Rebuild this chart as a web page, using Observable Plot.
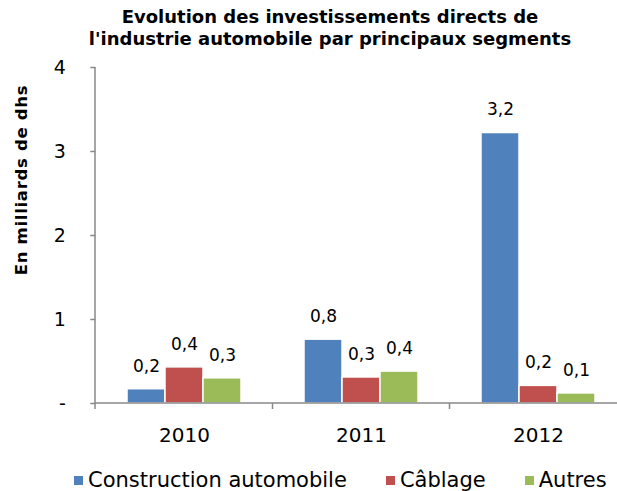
<!DOCTYPE html>
<html><head><meta charset="utf-8">
<script src="https://cdn.jsdelivr.net/npm/d3@7"></script>
<script src="https://cdn.jsdelivr.net/npm/@observablehq/plot@0.6"></script>
<style>
body{margin:0;background:#fff;}
#wrap{position:relative;width:617px;height:491px;overflow:hidden;font-family:"DejaVu Sans",Verdana,sans-serif;color:#000;}
#title{position:absolute;left:43px;width:574px;top:6px;text-align:center;font-weight:bold;font-size:18px;line-height:22px;}
#ylabel{position:absolute;left:21px;top:180px;transform:translate(-50%,-50%) rotate(-90deg);white-space:nowrap;font-weight:bold;font-size:16.5px;letter-spacing:0.7px;}
#chart{position:absolute;left:0;top:0;}
#legend{position:absolute;top:468px;left:74px;display:flex;gap:39px;font-size:21px;line-height:24px;white-space:nowrap;}
#legend span.item{display:flex;align-items:center;}
#legend span.sw{display:inline-block;width:9px;height:9px;margin-right:5px;margin-top:1px;}
</style></head>
<body>
<div id="wrap">
  <div id="title">Evolution des investissements directs de<br>l'industrie automobile par principaux segments</div>
  <div id="chart"></div>
  <div id="ylabel">En milliards de dhs</div>
  <div id="legend"></div>
</div>
<script>
const years = ["2010", "2011", "2012"];
const series = ["Construction automobile", "Câblage", "Autres"];
const colors = ["#4F81BD", "#C0504D", "#9BBB59"];
const construction = [0.17, 0.76, 3.22];
const cablage = [0.43, 0.31, 0.21];
const autres = [0.30, 0.38, 0.12];
const labelsConstruction = ["0,2", "0,8", "3,2"];
const labelsCablage = ["0,4", "0,3", "0,2"];
const labelsAutres = ["0,3", "0,4", "0,1"];
const yTicks = [0, 1, 2, 3, 4];

const values = [construction, cablage, autres];
const labels = [labelsConstruction, labelsCablage, labelsAutres];
const data = [];
years.forEach((yr, i) => series.forEach((s, j) => data.push({year: yr, series: s, value: values[j][i], label: labels[j][i]})));

const W = 617, H = 491, mL = 95, mR = -10.5, mT = 67, mB = 88;
const pIn = 0.344, pOut = 0.173;
const step = (W - mL - mR) / (years.length - pIn + 2 * pOut);
const outer = step * pOut;

const plot = Plot.plot({
  width: W, height: H,
  marginLeft: mL, marginRight: mR, marginTop: mT, marginBottom: mB,
  style: {fontFamily: "'DejaVu Sans', Verdana, sans-serif", color: "#000", background: "transparent", overflow: "visible"},
  fx: {domain: years, paddingInner: pIn, paddingOuter: pOut, label: null},
  x: {domain: series, padding: 0, axis: null},
  y: {domain: [0, 4], axis: null},
  color: {domain: series, range: colors},
  marks: [
    Plot.barY(data, {fx: "year", x: "series", y: "value", fill: "series", stroke: "#fff", strokeWidth: 1.5}),
    Plot.text(data, {fx: "year", x: "series", y: "value", text: "label", dy: -23, fontSize: 17, fill: "#000"}),
    Plot.axisY({ticks: yTicks, tickFormat: d => d === 0 ? "-" : String(d), tickSize: 5, tickPadding: 25, fontSize: 19, stroke: "#888", strokeWidth: 1.5, dx: -outer, label: null}),
    Plot.axisFx({anchor: "bottom", tickSize: 0, tickPadding: 24, fontSize: 20, label: null})
  ]
});
document.getElementById("chart").appendChild(plot);

// axis lines drawn from the library's scales
const fx = plot.scale("fx"), y = plot.scale("y");
const svg = d3.select(plot);
const x0 = fx.range[0];
const y0 = y.apply(0), y4 = y.apply(4);
const g = svg.append("g").attr("stroke", "#888").attr("stroke-width", 1.5);
g.append("line").attr("x1", x0).attr("x2", fx.range[1]).attr("y1", y0).attr("y2", y0);
g.append("line").attr("x1", x0).attr("x2", x0).attr("y1", y4).attr("y2", y0 + 6);
years.forEach(yr => {
  const bx = fx.apply(yr) + fx.bandwidth + (fx.step - fx.bandwidth) / 2;
  g.append("line").attr("x1", bx).attr("x2", bx).attr("y1", y0).attr("y2", y0 + 6);
});

const legend = document.getElementById("legend");
series.forEach((s, i) => {
  const it = document.createElement("span"); it.className = "item";
  const sw = document.createElement("span"); sw.className = "sw"; sw.style.background = colors[i];
  it.appendChild(sw); it.appendChild(document.createTextNode(s));
  legend.appendChild(it);
});
</script>
</body></html>
